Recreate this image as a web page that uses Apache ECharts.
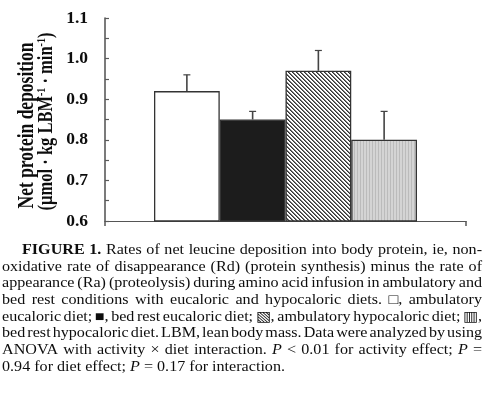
<!DOCTYPE html>
<html><head><meta charset="utf-8">
<script src="https://cdn.jsdelivr.net/npm/echarts@6/dist/echarts.min.js"></script>
<style>html,body{margin:0;padding:0;background:#fff}#c{width:484px;height:393px}</style>
</head><body><div id="c"></div>
<script>
// ---- data ----
const categories = ['Ambulatory eucaloric', 'Bed rest eucaloric', 'Ambulatory hypocaloric', 'Bed rest hypocaloric'];
const means = [0.92, 0.85, 0.97, 0.80];
const sem = [0.04, 0.02, 0.05, 0.07];
const yTickLabels = ['0.6', '0.7', '0.8', '0.9', '1.0', '1.1'];
const yTitle1 = 'Net protein deposition';
const yTitle2 = '(\u00b5mol \u00b7 kg LBM{sup|-1} \u00b7 min{sup|-1})';
const captionLines = [
  'FIGURE 1. Rates of net leucine deposition into body protein, ie, non-',
  'oxidative rate of disappearance (Rd) (protein synthesis) minus the rate of',
  'appearance (Ra) (proteolysis) during amino acid infusion in ambulatory and',
  'bed rest conditions with eucaloric and hypocaloric diets. \u25a1, ambulatory',
  'eucaloric diet; \u25a0, bed rest eucaloric diet; \u25a7, ambulatory hypocaloric diet; \u25a5,',
  'bed rest hypocaloric diet. LBM, lean body mass. Data were analyzed by using',
  'ANOVA with activity \u00d7 diet interaction. P < 0.01 for activity effect; P =',
  '0.94 for diet effect; P = 0.17 for interaction.'
];

// ---- patterns ----
function diagPattern() {
  const c = document.createElement('canvas'); c.width = 4; c.height = 4;
  const g = c.getContext('2d');
  g.fillStyle = '#fff'; g.fillRect(0, 0, 4, 4);
  for (let i = 0; i < 4; i++) {
    g.fillStyle = '#333'; g.fillRect(i, i, 1, 1);
    g.fillStyle = '#7a7a7a'; g.fillRect((i + 1) % 4, i, 1, 1);
  }
  return c;
}
function vertPattern() {
  const c = document.createElement('canvas'); c.width = 3; c.height = 2;
  const g = c.getContext('2d');
  g.fillStyle = '#d4d4d4'; g.fillRect(0, 0, 3, 2);
  g.fillStyle = '#bbbbbb'; g.fillRect(0, 0, 1, 2);
  return c;
}
const barFills = ['#ffffff', '#1c1c1c', { image: diagPattern(), repeat: 'repeat' }, { image: vertPattern(), repeat: 'repeat' }];

// ---- caption layout ----
const FAM = '"Liberation Serif", "Times New Roman", serif';
const capSize = 14;
const mctx = document.createElement('canvas').getContext('2d');
function fontOf(w) {
  const b = w.bold ? 'bold ' : '', it = w.italic ? 'italic ' : '';
  return it + b + capSize + 'px ' + FAM;
}
function measure(w) { mctx.font = fontOf(w); return mctx.measureText(w.t).width; }
const lineWords = captionLines.map((ln, li) => ln.split(' ').map((t, wi) => ({
  t: t, bold: li === 0 && wi < 2, italic: t === 'P'
})));
// horizontal stretch so that the last (unjustified) line has the reference width
const lastW = (() => { const ws = lineWords[7]; let s = 0; ws.forEach(w => s += measure(w)); mctx.font = fontOf({}); s += (ws.length - 1) * mctx.measureText(' ').width; return s; })();
const sx = 283 / lastW;
const capGraphics = [];
lineWords.forEach((ws, li) => {
  const left = li === 0 ? 22 : 2, right = 482;
  const y = 250.5 + li * 16.65;
  const widths = ws.map(w => measure(w) * sx);
  let gap;
  if (li === lineWords.length - 1) { mctx.font = fontOf({}); gap = mctx.measureText(' ').width * sx; }
  else { const sum = widths.reduce((a, b) => a + b, 0); gap = (right - left - sum) / (ws.length - 1); }
  let x = left;
  ws.forEach((w, wi) => {
    capGraphics.push({ type: 'text', x: x, y: y, scaleX: sx, silent: true,
      style: { text: w.t, font: fontOf(w), fill: '#0d0d0d', textAlign: 'left', textVerticalAlign: 'middle' } });
    x += widths[wi] + gap;
  });
});

const chart = echarts.init(document.getElementById('c'), null, { renderer: 'canvas' });
chart.setOption({
  animation: false,
  backgroundColor: '#fff',
  grid: [
    { left: 105, right: 18, top: 18, height: 203 },
    { left: 154, right: 67, top: 18, height: 203 }
  ],
  xAxis: [
    { type: 'value', gridIndex: 0, min: 0, max: 1, interval: 1,
      axisLine: { show: true, lineStyle: { color: '#555', width: 1 } },
      axisTick: { show: true, inside: false, length: 5, lineStyle: { color: '#555', width: 1.5 } },
      axisLabel: { show: false }, splitLine: { show: false } },
    { type: 'category', gridIndex: 1, data: categories, show: false }
  ],
  yAxis: [
    { type: 'value', gridIndex: 0, min: 0.6, max: 1.1, interval: 0.05,
      axisLine: { show: true, lineStyle: { color: '#5a5a5a', width: 1.6 } },
      axisTick: { show: true, inside: true, length: 4, lineStyle: { color: '#5a5a5a', width: 1.2 } },
      splitLine: { show: false },
      axisLabel: { margin: 17, color: '#0d0d0d', fontFamily: FAM, fontWeight: 'bold', fontSize: 17.5,
        formatter: v => { const k = Math.round((v - 0.6) * 10 * 1000) / 1000; return Number.isInteger(k) ? yTickLabels[k] : ''; } } },
    { type: 'value', gridIndex: 1, min: 0.6, max: 1.1, show: false }
  ],
  series: [
    { type: 'bar', xAxisIndex: 1, yAxisIndex: 1, barCategoryGap: '0%', z: 3,
      data: means.map((v, i) => ({ value: v, itemStyle: { color: barFills[i], borderColor: '#333', borderWidth: 1.3 } })) },
    { type: 'custom', xAxisIndex: 1, yAxisIndex: 1, z: 4,
      data: means.map((v, i) => [i, v, v + sem[i]]),
      encode: { x: 0, y: [1, 2] },
      renderItem: (params, api) => {
        const i = api.value(0);
        const p0 = api.coord([i, api.value(1)]);
        const p1 = api.coord([i, api.value(2)]);
        return { type: 'group', children: [
          { type: 'line', shape: { x1: p0[0], y1: p0[1], x2: p1[0], y2: p1[1] }, style: { stroke: '#444', lineWidth: 1.6 } },
          { type: 'line', shape: { x1: p1[0] - 3.5, y1: p1[1], x2: p1[0] + 3.5, y2: p1[1] }, style: { stroke: '#444', lineWidth: 1.2 } }
        ] };
      } }
  ],
  graphic: [
    { type: 'text', x: 27, y: 125.5, rotation: Math.PI / 2, scaleY: 1.3, silent: true,
      style: { text: yTitle1, font: 'bold 17.5px ' + FAM, fill: '#0d0d0d', textAlign: 'center', textVerticalAlign: 'middle' } },
    { type: 'text', x: 46.5, y: 121.5, rotation: Math.PI / 2, scaleY: 1.25, silent: true,
      style: { text: yTitle2, font: 'bold 16.5px ' + FAM, fill: '#0d0d0d', textAlign: 'center', textVerticalAlign: 'middle',
        rich: { sup: { fontSize: 10, fontWeight: 'bold', fontFamily: FAM, verticalAlign: 'top', lineHeight: 16 } } } }
  ].concat(capGraphics)
});
</script></body></html>
